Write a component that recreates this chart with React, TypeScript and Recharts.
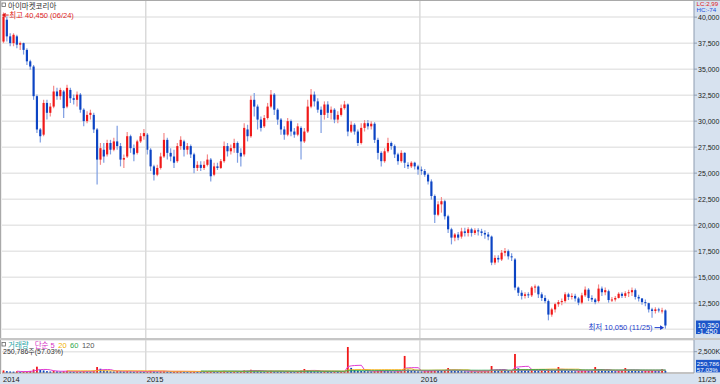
import { Bar, CartesianGrid, ComposedChart, Line, ReferenceDot, ReferenceLine, XAxis, YAxis } from 'recharts'

// daily candles (sampled), KRW
const OPEN = [
  37650, 39750, 38150, 37500, 38150, 37350, 37500, 36850, 35750, 35250,
  32400, 29200, 28700, 31750, 30800, 31400, 32850, 32400, 32850, 31400,
  33000, 32200, 32050, 32550, 31100, 30000, 30600, 30600, 29200, 26300,
  27250, 26800, 27900, 27250, 28050, 27600, 26300, 26600, 28550, 27400,
  26950, 28050, 28550, 28700, 27250, 25650, 24850, 25500, 26600, 28200,
  26950, 26600, 26150, 27600, 28050, 27250, 27600, 26800, 25500, 25800,
  25500, 25800, 26300, 24850, 25650, 25500, 26150, 27600, 27100, 27400,
  27900, 26950, 26800, 29200, 28550, 32050, 31400, 30150, 29500, 30300,
  31400, 32550, 31100, 30150, 29200, 28700, 30000, 29000, 28700, 29350,
  28050, 29000, 31400, 32550, 31900, 31100, 30600, 31600, 30800, 31100,
  30150, 30600, 31250, 31600, 29000, 29650, 29000, 27900, 29350, 29800,
  29500, 29750, 28200, 26950, 26150, 27100, 27900, 27600, 26800, 26150,
  26950, 25800, 25650, 26000, 25650, 25350, 25200, 24850, 24200, 22800,
  21000, 22000, 22300, 20850, 19600, 18800, 19100, 18900, 19400, 19250,
  19600, 19250, 19500, 19400, 19250, 19100, 18900, 16400, 16850, 16700,
  17350, 17500, 17000, 16700, 14000, 13500, 13200, 13350, 13250, 14000,
  14100, 13350, 13000, 12700, 11400, 11900, 12400, 12600, 12700, 13350,
  13100, 13200, 12950, 12550, 13250, 13800, 13000, 12850, 12700, 13900,
  13550, 13650, 12800, 12850, 13000, 13400, 13200, 13450, 13550, 13750,
  13100, 12950, 12600, 12500, 11900, 11750, 11900, 11750, 11800,
]
const HIGH = [
  40450, 40050, 38450, 38450, 38300, 37650, 37550, 37000, 35900, 35400,
  32550, 29350, 32050, 32050, 31750, 33400, 33200, 33200, 33000, 33500,
  33200, 32550, 32850, 32700, 31250, 30950, 31100, 30800, 29350, 27900,
  27900, 28200, 28200, 28400, 29550, 27900, 26800, 28950, 28700, 27750,
  28200, 28850, 29250, 28850, 27400, 25800, 25800, 26950, 28850, 28400,
  27400, 27250, 27900, 28550, 28200, 27900, 27750, 26950, 26150, 26150,
  26150, 26800, 26450, 26000, 26000, 26350, 28050, 27900, 27750, 28300,
  28050, 27400, 29800, 29650, 32450, 32700, 31600, 30450, 30600, 31750,
  33000, 32700, 31250, 30300, 29500, 30300, 30150, 29350, 29800, 29500,
  29350, 32050, 33100, 32850, 32200, 31400, 31900, 31900, 31400, 31250,
  30950, 31600, 31950, 31700, 30000, 29800, 29200, 29800, 30100, 30100,
  30000, 29900, 28400, 27100, 27400, 28400, 28050, 27750, 26950, 27200,
  27000, 26050, 26150, 26100, 25800, 25650, 25400, 25000, 24400, 22950,
  22300, 22700, 22450, 21000, 19750, 19250, 19350, 19750, 19750, 19800,
  19750, 19700, 19700, 19650, 19500, 19350, 19000, 17100, 17100, 17600,
  17800, 17650, 17300, 16850, 14100, 13750, 13550, 13550, 14150, 14300,
  14200, 13550, 13250, 12850, 12050, 12550, 12800, 12950, 13550, 13500,
  13450, 13400, 13100, 13500, 14100, 13950, 13250, 13000, 14300, 14100,
  14000, 13800, 13100, 13200, 13550, 13550, 13650, 13800, 14000, 13900,
  13300, 13000, 12850, 12550, 12050, 12100, 12050, 12050, 11900,
]
const LOW = [
  37500, 37650, 37200, 37200, 37000, 36850, 36400, 35400, 34950, 32050,
  28850, 27950, 28550, 30150, 30450, 31250, 32050, 32050, 30300, 31250,
  31750, 31600, 31400, 30800, 29500, 29800, 30150, 28850, 23900, 25800,
  26000, 26600, 26800, 27100, 27250, 25650, 25500, 26450, 26950, 26150,
  26800, 27900, 28200, 26800, 25200, 24300, 24700, 25350, 26450, 26300,
  26150, 25500, 26000, 27250, 26600, 26800, 26450, 25000, 25200, 25200,
  25300, 25650, 24200, 24700, 25300, 25400, 26000, 26600, 26800, 26950,
  26000, 25650, 26600, 28050, 28400, 30450, 29200, 29000, 29350, 30150,
  31250, 30600, 29650, 28700, 28200, 28550, 28550, 28400, 28550, 26300,
  27900, 28850, 31250, 31400, 30800, 28850, 30150, 30300, 30150, 29800,
  29800, 30450, 31100, 28550, 28850, 28700, 27600, 27750, 29000, 29200,
  29200, 27900, 26300, 25650, 26000, 26950, 27250, 26450, 25800, 26000,
  25500, 25400, 25500, 25350, 24850, 24850, 24650, 23900, 22450, 20200,
  20850, 21200, 20550, 19250, 18150, 18450, 18550, 18700, 18900, 18900,
  18900, 19050, 19000, 18950, 18700, 18550, 16150, 16200, 16400, 16550,
  17000, 16700, 16550, 13750, 13200, 12850, 12950, 13000, 13100, 13500,
  13000, 12700, 12500, 10850, 11200, 11600, 12150, 12300, 12550, 12800,
  12850, 12650, 12300, 12400, 13100, 12700, 12600, 12400, 12550, 13200,
  13250, 12550, 12600, 12650, 12950, 13000, 13000, 13100, 13200, 12850,
  12650, 12350, 12200, 11600, 11100, 11500, 11600, 11500, 10050,
]
const CLOSE = [
  40050, 38150, 37500, 38300, 37350, 37500, 36850, 35750, 35250, 32400,
  29200, 28550, 31750, 30800, 31400, 32850, 32400, 33000, 31250, 33200,
  32200, 32050, 32550, 31100, 30000, 30600, 30800, 29200, 26300, 27400,
  26600, 27900, 27250, 28050, 27600, 26300, 26450, 28550, 27400, 26800,
  28050, 28550, 28850, 27250, 25650, 24850, 25500, 26600, 28200, 26950,
  26600, 26000, 27600, 28200, 27250, 27600, 26800, 25500, 25800, 25500,
  25800, 26300, 24700, 25650, 25500, 26150, 27600, 27100, 27400, 27900,
  26950, 26600, 29350, 28550, 32050, 31400, 30150, 29350, 30300, 31400,
  32550, 31100, 30150, 29200, 28700, 30000, 29000, 28700, 29500, 28050,
  29000, 31400, 32550, 31900, 31100, 30600, 31600, 30800, 31100, 30150,
  30600, 31250, 31600, 29000, 29650, 29000, 27900, 29350, 29800, 29500,
  29750, 28200, 26950, 26150, 27100, 27900, 27600, 26800, 26150, 26950,
  26000, 25650, 26000, 25650, 25350, 25200, 24850, 24200, 22800, 21000,
  22000, 22300, 20850, 19600, 18800, 19100, 18800, 19400, 19250, 19600,
  19250, 19500, 19400, 19250, 19100, 18900, 16400, 16850, 16700, 17350,
  17500, 17000, 16950, 14000, 13500, 13200, 13350, 13250, 14000, 14100,
  13350, 13000, 12700, 11400, 11900, 12400, 12600, 12700, 13350, 13100,
  13200, 12950, 12550, 13250, 13800, 13000, 12850, 12600, 13900, 13550,
  13750, 12800, 12850, 13000, 13400, 13200, 13450, 13550, 13750, 13100,
  12950, 12600, 12500, 11900, 11750, 11900, 11800, 11800, 10350,
]
// volume, thousand shares
const VOLUME_K = [
  300, 220, 180, 160, 200, 150, 170, 190, 240, 420,
  740, 380, 300, 220, 180, 260, 200, 170, 210, 250,
  180, 160, 190, 170, 230, 200, 180, 260, 700, 500,
  320, 260, 200, 180, 240, 220, 190, 230, 200, 170,
  210, 180, 160, 170, 260, 220, 180, 200, 240, 190,
  160, 170, 210, 230, 180, 150, 160, 200, 170, 150,
  140, 180, 220, 170, 150, 160, 250, 200, 180, 210,
  190, 200, 300, 260, 380, 280, 230, 200, 190, 210,
  260, 230, 200, 180, 170, 200, 180, 170, 190, 280,
  470, 300, 250, 220, 200, 190, 230, 200, 180, 190,
  170, 180, 200, 3050, 600, 350, 280, 250, 230, 200,
  190, 210, 260, 300, 240, 220, 200, 190, 210, 230,
  2000, 400, 280, 230, 200, 190, 220, 240, 300, 340,
  280, 260, 300, 580, 350, 260, 230, 220, 200, 190,
  210, 180, 190, 200, 230, 260, 820, 350, 280, 300,
  260, 240, 280, 2230, 550, 420, 380, 320, 400, 350,
  300, 300, 250, 450, 380, 300, 700, 350, 300, 250,
  220, 200, 230, 260, 300, 250, 230, 700, 450, 320,
  280, 250, 230, 220, 260, 300, 580, 320, 280, 250,
  230, 220, 240, 260, 300, 250, 230, 440, 251,
]

const STOCK_NAME = '아이마켓코리아'
const HIGH_DATE = '06/24'
const LOW_DATE = '11/25'
const LAST_DATE = '11/25'
const LAST_CHANGE = -1450
const LAST_VOLUME = 250786
const LAST_VOLUME_PCT = '57.03%'
const LC_TEXT = 'LC:2,99'
const HC_TEXT = 'HC:-74'
const PRICE_GRID = [10000, 12500, 15000, 17500, 20000, 22500, 25000, 27500, 30000, 32500, 35000, 37500, 40000]
const PRICE_TICKS = [12500, 15000, 17500, 20000, 22500, 25000, 27500, 30000, 32500, 35000, 37500, 40000]
const VOLUME_TICKS = [2500]
const YEAR_LABELS = ['2014', '2015', '2016']
const YEAR_START = [0, 43, 125]
const MA_PERIODS = [5, 20, 60, 120]
const MA_COLORS = ['#e03cd2', '#f2b21c', '#2fa84c', '#8a8a8a']
const EMPTY_SLOTS = 8

const FONT = '"Liberation Sans", Arial, "Noto Sans CJK KR", sans-serif'
const UP = '#f01818'
const UP_WICK = '#f48a8a'
const DOWN = '#0c44c4'
const DOWN_WICK = '#7d9de2'
const GRID = '#e6e6e6'
const GRID_V = '#dadada'
const STRIP = '#d7e2ef'
const AXIS = '#8d9bb0'
const TAG_BLUE = '#1c55c9'

const fmt = (v: number) => v.toLocaleString('en-US')

function movingAverage(values: number[], period: number, i: number) {
  if (i < period - 1) return undefined
  let sum = 0
  for (let k = i - period + 1; k <= i; k++) sum += values[k]
  return sum / period
}

const rows: any[] = CLOSE.map((c, i) => {
  const row: any = {
    i,
    o: OPEN[i],
    h: HIGH[i],
    l: LOW[i],
    c,
    range: [LOW[i], HIGH[i]],
    vol: VOLUME_K[i],
    volUp: i === 0 || VOLUME_K[i] >= VOLUME_K[i - 1],
  }
  MA_PERIODS.forEach((p) => {
    row[`ma${p}`] = movingAverage(VOLUME_K, p, i)
  })
  return row
})
for (let k = 0; k < EMPTY_SLOTS; k++) rows.push({ i: CLOSE.length + k })

const hiIdx = HIGH.indexOf(Math.max(...HIGH))
const loIdx = LOW.indexOf(Math.min(...LOW))
const lastIdx = CLOSE.length - 1

function Candle(props: any) {
  const { x, y, width, height, payload } = props
  if (!payload || payload.h == null) return null
  const top = Math.min(y, y + height)
  const span = Math.abs(height)
  const toY = (v: number) => top + ((payload.h - v) / (payload.h - payload.l || 1)) * span
  const up = payload.c >= payload.o
  const cx = x + width / 2
  const bodyTop = toY(Math.max(payload.o, payload.c))
  const bodyBot = toY(Math.min(payload.o, payload.c))
  const bw = Math.max(1.4, width * 0.72)
  return (
    <g>
      <line x1={cx} x2={cx} y1={top} y2={top + span} stroke={up ? UP_WICK : DOWN_WICK} strokeWidth={1.2} />
      <rect x={cx - bw / 2} y={bodyTop} width={bw} height={Math.max(1, bodyBot - bodyTop)} fill={up ? UP : DOWN} />
    </g>
  )
}

function VolumeBar(props: any) {
  const { x, y, width, height, payload } = props
  if (!payload || payload.vol == null) return null
  const w = Math.max(1.2, width * 0.6)
  const top = Math.min(y, y + height)
  return <rect x={x + width / 2 - w / 2} y={top} width={w} height={Math.max(0.8, Math.abs(height))} fill={payload.volUp ? UP : DOWN} />
}

function HighTag(props: any) {
  const { viewBox } = props
  const cx = viewBox.x + viewBox.width / 2
  const cy = viewBox.y + viewBox.height / 2 + 2.6
  return (
    <g>
      <path d={`M${cx - 2} ${cy} l4 -2.4 v4.8 z`} fill="#e01c1c" />
      <line x1={cx + 2} x2={cx + 5} y1={cy} y2={cy} stroke="#e01c1c" strokeWidth={1} />
      <text x={cx + 5.5} y={cy + 2.6} fontSize={7.5} fill="#e01c1c" fontFamily={FONT}>
        {`최고 ${fmt(HIGH[hiIdx])} (${HIGH_DATE})`}
      </text>
    </g>
  )
}

function LowTag(props: any) {
  const { viewBox } = props
  const cx = viewBox.x + viewBox.width / 2
  const cy = viewBox.y + viewBox.height / 2 - 1
  return (
    <g>
      <line x1={cx - 11} x2={cx - 5} y1={cy} y2={cy} stroke="#1a3ccc" strokeWidth={1} />
      <path d={`M${cx - 1.5} ${cy} l-4 -2.4 v4.8 z`} fill="#1a3ccc" />
      <text x={cx - 13} y={cy + 2.6} fontSize={7.5} fill="#1a3ccc" textAnchor="end" fontFamily={FONT}>
        {`최저 ${fmt(LOW[loIdx])} (${LOW_DATE})`}
      </text>
    </g>
  )
}

function PriceTag(props: any) {
  const { viewBox } = props
  const left = viewBox.x + viewBox.width + 2
  const ly = viewBox.y
  return (
    <g>
      <rect x={left} y={ly - 5} width={26} height={13.5} fill={TAG_BLUE} />
      <text x={left + 1.5} y={ly + 2} fontSize={7} fill="#fff" fontFamily={FONT}>{fmt(CLOSE[lastIdx])}</text>
      <text x={left + 1.5} y={ly + 8} fontSize={7} fill="#fff" fontFamily={FONT}>{fmt(LAST_CHANGE)}</text>
    </g>
  )
}

function VolumeTag(props: any) {
  const { viewBox } = props
  const left = viewBox.x + viewBox.width + 2
  const ly = viewBox.y
  return (
    <g>
      <rect x={left} y={ly - 11} width={26} height={12.5} fill={TAG_BLUE} />
      <text x={left + 0.8} y={ly - 5} fontSize={6.2} fill="#fff" fontFamily={FONT}>{fmt(LAST_VOLUME)}</text>
      <text x={left + 0.8} y={ly + 1} fontSize={6.2} fill="#fff" fontFamily={FONT}>{LAST_VOLUME_PCT}</text>
    </g>
  )
}

function YearTag(props: any) {
  const { viewBox, text } = props
  return (
    <text x={viewBox.x + 1} y={viewBox.y + viewBox.height + 8.5} fontSize={7.5} fill="#222" fontFamily={FONT}>
      {text}
    </text>
  )
}

const tickStyle = { fontSize: 7, fill: '#222', fontFamily: FONT }

export default function App() {
  return (
    <div style={{ position: 'fixed', left: 0, top: 0, width: 720, height: 384, background: '#fff', overflow: 'hidden' }}>
      <div style={{ position: 'absolute', left: 694, top: 0, width: 26, height: 384, background: STRIP }} />
      <div style={{ position: 'absolute', left: 0, top: 374, width: 720, height: 10, background: STRIP }} />

      <div style={{ position: 'absolute', left: 0, top: 0 }}>
        <ComposedChart width={720} height={339} data={rows} margin={{ top: 1, right: 0, bottom: 1, left: 2 }} barCategoryGap={0} barGap={0}>
          <CartesianGrid vertical={false} horizontalValues={PRICE_GRID} stroke={GRID} strokeWidth={1.5} />
          <XAxis dataKey="i" hide />
          <YAxis
            orientation="right"
            width={26}
            domain={[9150, 41550]}
            ticks={PRICE_TICKS}
            interval={0}
            allowDataOverflow
            tickFormatter={fmt}
            tick={tickStyle}
            tickSize={3}
            tickMargin={1}
            axisLine={{ stroke: AXIS }}
            tickLine={{ stroke: AXIS }}
          />
          {YEAR_START.slice(1).map((idx) => (
            <ReferenceLine key={idx} x={idx} position="start" stroke={GRID_V} strokeWidth={1.5} />
          ))}
          <Bar dataKey="range" shape={Candle} isAnimationActive={false} />
          <ReferenceDot x={hiIdx} y={HIGH[hiIdx]} r={1} fill="none" stroke="none" label={<HighTag />} />
          <ReferenceDot x={loIdx} y={LOW[loIdx]} r={1} fill="none" stroke="none" label={<LowTag />} />
          <ReferenceLine y={CLOSE[lastIdx]} stroke="none" label={<PriceTag />} />
        </ComposedChart>
      </div>

      <div style={{ position: 'absolute', left: 0, top: 339 }}>
        <ComposedChart width={720} height={45} data={rows} margin={{ top: 1, right: 0, bottom: 0, left: 2 }} barCategoryGap={0} barGap={0}>
          <CartesianGrid vertical={false} stroke={GRID} strokeWidth={1.5} />
          <XAxis dataKey="i" height={11} tick={false} tickLine={false} axisLine={{ stroke: '#9a9a9a' }} />
          <YAxis
            orientation="right"
            width={26}
            domain={[0, 3870]}
            ticks={VOLUME_TICKS}
            interval={0}
            allowDataOverflow
            tickFormatter={(v: number) => `${fmt(v)}K`}
            tick={tickStyle}
            tickSize={3}
            tickMargin={1}
            axisLine={{ stroke: AXIS }}
            tickLine={{ stroke: AXIS }}
          />
          {YEAR_START.map((idx, k) => (
            <ReferenceLine
              key={idx}
              x={idx}
              position="start"
              stroke={k === 0 ? 'none' : GRID_V}
              strokeWidth={1.5}
              label={<YearTag text={YEAR_LABELS[k]} />}
            />
          ))}
          <Bar dataKey="vol" shape={VolumeBar} isAnimationActive={false} />
          {MA_PERIODS.map((p, k) => (
            <Line key={p} dataKey={`ma${p}`} stroke={MA_COLORS[k]} strokeWidth={1} dot={false} isAnimationActive={false} />
          ))}
          <ReferenceLine y={LAST_VOLUME / 1000} stroke="none" label={<VolumeTag />} />
        </ComposedChart>
      </div>

      <svg width={720} height={384} style={{ position: 'absolute', left: 0, top: 0, pointerEvents: 'none' }}>
        <rect x={0} y={0} width={720} height={1} fill="#a9a9a9" />
        <rect x={0} y={0} width={1.2} height={374} fill="#a9a9a9" />
        <rect x={0} y={338} width={720} height={2} fill="#c6c6c6" />
        <rect x={2} y={3} width={3.5} height={3.5} fill="none" stroke="#666" strokeWidth={0.8} />
        <text x={8} y={8.5} fontSize={7.5} fill="#333" fontFamily={FONT}>{STOCK_NAME}</text>
        <text x={696.5} y={6} fontSize={6.2} fill="#e02020" fontFamily={FONT}>{LC_TEXT}</text>
        <text x={696.5} y={12.2} fontSize={6.2} fill="#2050e0" fontFamily={FONT}>{HC_TEXT}</text>
        <rect x={2} y={342.5} width={3.5} height={3.5} fill="none" stroke="#666" strokeWidth={0.8} />
        <text y={347.5} fontSize={7.5} fontFamily={FONT}>
          <tspan x={8} fill="#1ea3a3">거래량</tspan>
          <tspan dx={6} fill="#d62fc4">단순 5</tspan>
          <tspan dx={3.5} fill="#f0b000">20</tspan>
          <tspan dx={3.5} fill="#2fa84c">60</tspan>
          <tspan dx={3.5} fill="#555">120</tspan>
        </text>
        <text x={3} y={354} fontSize={7} fill="#333" fontFamily={FONT}>{`${fmt(LAST_VOLUME)}주(${LAST_VOLUME_PCT})`}</text>
        <text x={698} y={382} fontSize={7.5} fill="#222" fontFamily={FONT}>{LAST_DATE}</text>
      </svg>
    </div>
  )
}
